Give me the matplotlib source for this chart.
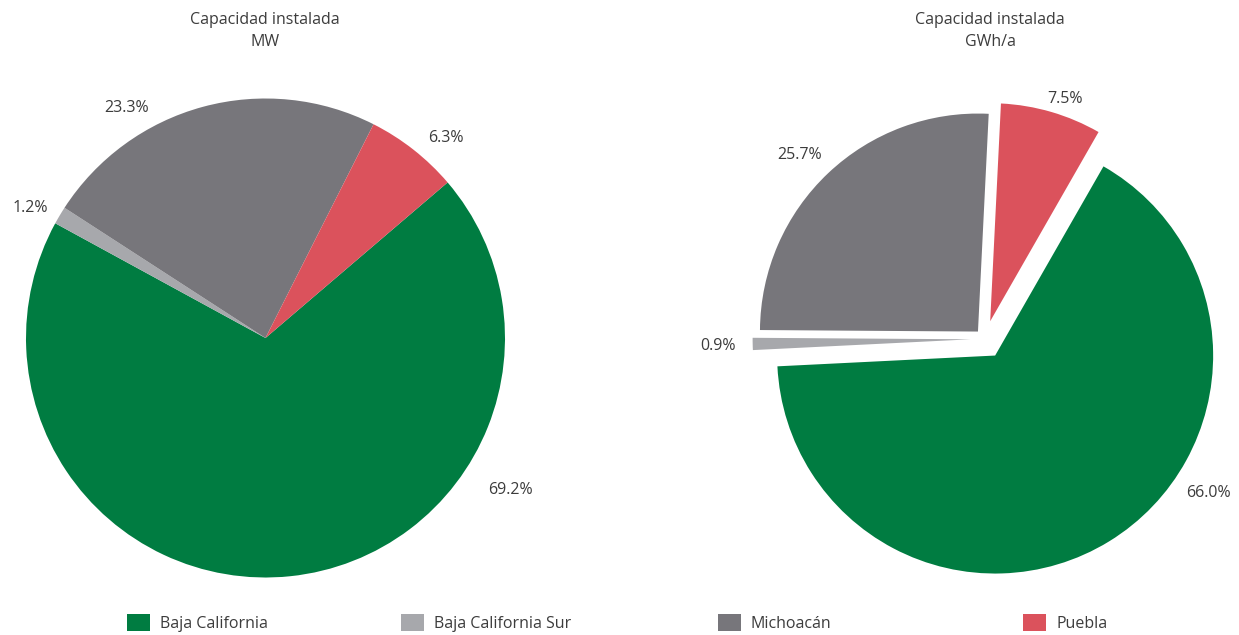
import matplotlib
matplotlib.use("Agg")
import matplotlib.pyplot as plt
from matplotlib.patches import Rectangle

# ---- data -------------------------------------------------------------
states = ["Baja California", "Baja California Sur", "Michoacán", "Puebla"]
state_colors = ["#007C41", "#A7A8AC", "#77767B", "#DB525C"]
share_mw = [69.2, 1.2, 23.3, 6.3]     # % of installed capacity, MW
share_gwh = [66.0, 0.9, 25.7, 7.5]    # % of generation, GWh/a
titles = ["Capacidad instalada\nMW", "Capacidad instalada\nGWh/a"]

# ---- layout (pixels on a 1239 x 635 canvas) ---------------------------
W, H = 1239, 635
TEXT = "#3C3C3C"
FONT = "Open Sans"
FS = 11.5

pies = [
    dict(values=share_mw, center=(265.5, 338.0), radius=239.5, start=40.5,
         explode=[0, 0, 0, 0],
         label_xy=[(510, 490), (30, 208), (127, 108), (446, 138)],
         title_x=265),
    dict(values=share_gwh, center=(985.0, 339.0), radius=218.0, start=60.2,
         explode=[0.089, 0.066, 0.047, 0.085],
         label_xy=[(1208, 493), (718, 346), (800, 155), (1065, 99)],
         title_x=990),
]
legend_x = [127, 401, 718, 1023]

fig = plt.figure(figsize=(W / 100, H / 100), dpi=100)
fig.patch.set_facecolor("white")


def fx(px):
    return px / W


def fy(py):
    return 1 - py / H


for i, p in enumerate(pies):
    cx, cy = p["center"]
    r = p["radius"]
    ax = fig.add_axes([0, 0, 1, 1], label=f"pie{i}")
    ax.set_axis_off()
    ax.patch.set_alpha(0)
    ax.pie(p["values"], colors=state_colors, startangle=p["start"],
           counterclock=False, explode=p["explode"], radius=1.0,
           wedgeprops=dict(linewidth=0))
    # unit pie: one data unit equals the radius in pixels
    ax.set_xlim(-cx / r, (W - cx) / r)
    ax.set_ylim(-(H - cy) / r, cy / r)
    ax.set_aspect("auto")

    for v, (lx, ly) in zip(p["values"], p["label_xy"]):
        fig.text(fx(lx), fy(ly), f"{v:.1f}%", ha="center", va="center",
                 fontsize=FS, color=TEXT, family=FONT)

    fig.text(fx(p["title_x"]), fy(31), titles[i], ha="center", va="center",
             fontsize=FS, color=TEXT, family=FONT, linespacing=1.5)

# legend row
for name, col, x0 in zip(states, state_colors, legend_x):
    fig.add_artist(Rectangle((fx(x0), fy(631)), 23 / W, 17 / H,
                             transform=fig.transFigure, facecolor=col,
                             edgecolor="none"))
    fig.text(fx(x0 + 33), fy(624), name, ha="left", va="center",
             fontsize=FS, color=TEXT, family=FONT)

fig.savefig("out.png", dpi=100, facecolor="white")
